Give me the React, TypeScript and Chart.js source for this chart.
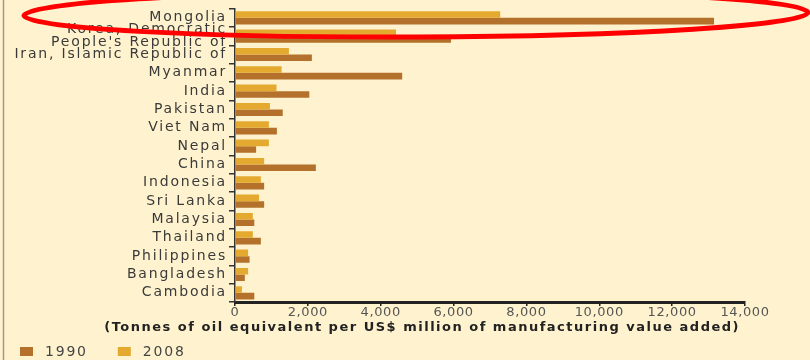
import React, { useEffect, useRef } from "react";
import { Chart, registerables } from "chart.js";

Chart.register(...registerables);

const categories: (string | string[])[] = [
  "Mongolia",
  ["Korea, Democratic", "People's Republic of"],
  "Iran, Islamic Republic of",
  "Myanmar",
  "India",
  "Pakistan",
  "Viet Nam",
  "Nepal",
  "China",
  "Indonesia",
  "Sri Lanka",
  "Malaysia",
  "Thailand",
  "Philippines",
  "Bangladesh",
  "Cambodia",
];

const values1990 = [13150, 5930, 2110, 4590, 2040, 1310, 1150, 580, 2220, 800, 800, 530, 710, 400, 270, 530];
const values2008 = [7280, 4420, 1480, 1280, 1140, 960, 930, 930, 800, 710, 660, 490, 490, 360, 360, 190];

const xTitle = "(Tonnes of oil equivalent per US$ million of manufacturing value added)";
const xMin = 0;
const xMax = 14000;
const xStep = 2000;

const BG = "#FFF3CF";
const C1990 = "#B3712B";
const C2008 = "#E4AA2F";
const FONT = "DejaVu Sans";

export default function App() {
  const ref = useRef<HTMLCanvasElement | null>(null);

  useEffect(() => {
    document.body.style.margin = "0";
    const canvas = ref.current;
    if (!canvas) return;

    const decoPlugin = {
      id: "deco",
      beforeDraw(chart: any) {
        const ctx = chart.ctx;
        ctx.save();
        ctx.fillStyle = BG;
        ctx.fillRect(0, 0, chart.width, chart.height);
        ctx.strokeStyle = "#A59887";
        ctx.lineWidth = 1.5;
        ctx.beginPath();
        ctx.moveTo(3.5, 0);
        ctx.lineTo(3.5, chart.height);
        ctx.stroke();
        ctx.restore();
        // wide letter spacing for category labels (y axis drawn before datasets)
        (ctx as any).letterSpacing = "1.8px";
      },
      beforeDatasetsDraw(chart: any) {
        (chart.ctx as any).letterSpacing = "0.6px";
      },
      afterDraw(chart: any) {
        const ctx = chart.ctx;
        const xs = chart.scales.x;
        // axis title
        ctx.save();
        (ctx as any).letterSpacing = "1.5px";
        ctx.font = `bold 13px "${FONT}"`;
        ctx.fillStyle = "#222";
        ctx.textAlign = "right";
        ctx.textBaseline = "middle";
        ctx.fillText(xTitle, xs.right - 5, xs.top + 26);
        ctx.restore();

        // legend (1990 first, then 2008)
        ctx.save();
        (ctx as any).letterSpacing = "1.8px";
        ctx.font = `14px "${FONT}"`;
        ctx.textBaseline = "middle";
        ctx.textAlign = "left";
        const ds = chart.data.datasets.slice().reverse();
        let x = 20;
        const y = chart.height - 8;
        ds.forEach((d: any) => {
          ctx.fillStyle = d.backgroundColor;
          ctx.fillRect(x, y - 5, 13, 9);
          x += 13 + 12;
          ctx.fillStyle = "#444";
          ctx.fillText(d.label, x, y);
          x += ctx.measureText(d.label).width + 30;
        });
        ctx.restore();

        // highlight ellipse
        ctx.save();
        ctx.strokeStyle = "#FF0000";
        ctx.lineWidth = 5;
        ctx.beginPath();
        ctx.ellipse(416, 14, 392, 23, -0.004, 0, Math.PI * 2);
        ctx.stroke();
        ctx.restore();
      },
    };

    const chart = new Chart(canvas, {
      type: "bar",
      data: {
        labels: categories,
        datasets: [
          {
            label: "2008",
            data: values2008,
            backgroundColor: C2008,
            categoryPercentage: 0.72,
            barPercentage: 1.0,
          },
          {
            label: "1990",
            data: values1990,
            backgroundColor: C1990,
            categoryPercentage: 0.72,
            barPercentage: 1.0,
          },
        ],
      },
      options: {
        indexAxis: "y",
        animation: false,
        responsive: false,
        maintainAspectRatio: false,
        layout: { padding: { left: 0, right: 65, top: 7, bottom: 10 } },
        scales: {
          x: {
            min: xMin,
            max: xMax,
            afterFit(scale: any) {
              scale.height = 48;
            },
            ticks: {
              z: 1,
              stepSize: xStep,
              color: "#555",
              padding: 0,
              font: { family: FONT, size: 13, lineHeight: 1.0 },
              maxRotation: 0,
              autoSkip: false,
            },
            grid: {
              drawOnChartArea: false,
              drawTicks: true,
              tickLength: 4,
              color: "#222",
              lineWidth: 1.5,
            },
            border: { display: true, color: "#222", width: 3 },
          },
          y: {
            afterFit(scale: any) {
              scale.width = 235;
            },
            ticks: {
              color: "#3a3a3a",
              padding: 2,
              autoSkip: false,
              font: { family: FONT, size: 14, lineHeight: 0.95 },
            },
            grid: {
              drawOnChartArea: false,
              drawTicks: true,
              tickLength: 6,
              color: "#333",
              lineWidth: 1.5,
              offset: true,
            },
            border: { display: true, color: "#333", width: 1.5 },
          },
        },
        plugins: {
          legend: { display: false },
          tooltip: { enabled: false },
        },
      },
      plugins: [decoPlugin],
    } as any);

    return () => chart.destroy();
  }, []);

  return (
    <div style={{ width: 810, height: 360, background: BG }}>
      <canvas ref={ref} width={810} height={360} style={{ display: "block" }} />
    </div>
  );
}
